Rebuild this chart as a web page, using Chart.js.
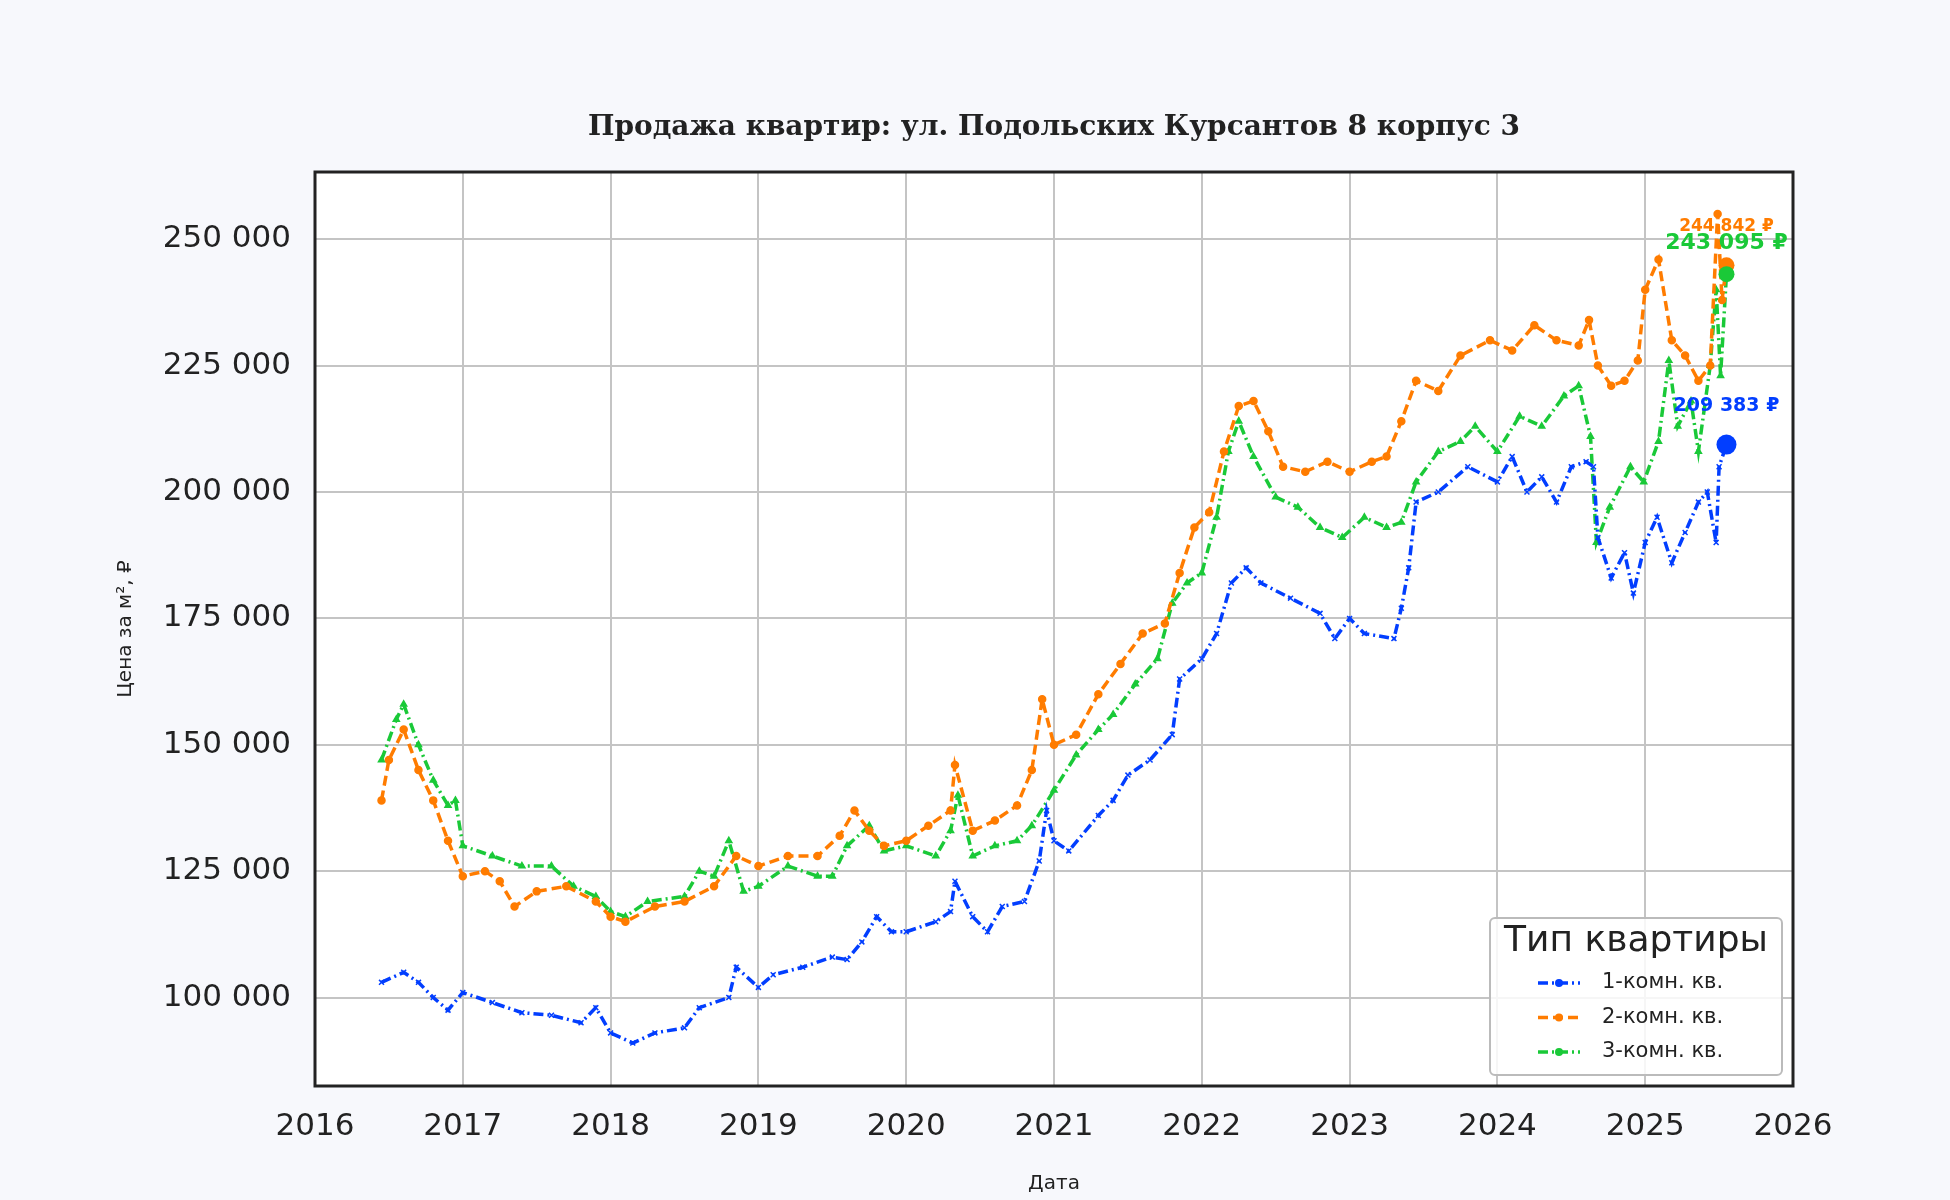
<!DOCTYPE html><html><head><meta charset="utf-8">
<script src="https://cdn.jsdelivr.net/npm/chart.js@4"></script>
<style>html,body{margin:0;background:#f7f8fc}#w{width:1950px;height:1200px}</style></head><body><div id="w"><canvas id="c"></canvas></div>
<script>
const xTicks=[2016,2017,2018,2019,2020,2021,2022,2023,2024,2025,2026];
const yTicks=[100000,125000,150000,175000,200000,225000,250000];
const series1Names=['1-комн. кв.','2-комн. кв.','3-комн. кв.'];
const d1=[[2016.45,103000],[2016.6,105000],[2016.7,103000],[2016.8,100000],[2016.9,97500],[2017.0,101000],[2017.2,99000],[2017.4,97000],[2017.6,96500],[2017.8,95000],[2017.9,98000],[2018.0,93000],[2018.15,91000],[2018.3,93000],[2018.5,94000],[2018.6,98000],[2018.8,100000],[2018.85,106000],[2019.0,102000],[2019.1,104500],[2019.3,106000],[2019.5,108000],[2019.6,107500],[2019.7,111000],[2019.8,116000],[2019.9,113000],[2020.0,113000],[2020.2,115000],[2020.3,117000],[2020.33,123000],[2020.45,116000],[2020.55,113000],[2020.65,118000],[2020.8,119000],[2020.9,127000],[2020.95,137000],[2021.0,131000],[2021.1,129000],[2021.3,136000],[2021.4,139000],[2021.5,144000],[2021.65,147000],[2021.8,152000],[2021.85,163000],[2022.0,167000],[2022.1,172000],[2022.2,182000],[2022.3,185000],[2022.4,182000],[2022.6,179000],[2022.8,176000],[2022.9,171000],[2023.0,175000],[2023.1,172000],[2023.3,171000],[2023.35,177000],[2023.4,185000],[2023.45,198000],[2023.6,200000],[2023.8,205000],[2024.0,202000],[2024.1,207000],[2024.2,200000],[2024.3,203000],[2024.4,198000],[2024.5,205000],[2024.6,206000],[2024.65,205000],[2024.68,191000],[2024.77,183000],[2024.86,188000],[2024.92,180000],[2025.0,190000],[2025.08,195000],[2025.18,186000],[2025.27,192000],[2025.36,198000],[2025.42,200000],[2025.48,190000],[2025.5,205000],[2025.55,209383]];
const d2=[[2016.45,139000],[2016.5,147000],[2016.6,153000],[2016.7,145000],[2016.8,139000],[2016.9,131000],[2017.0,124000],[2017.15,125000],[2017.25,123000],[2017.35,118000],[2017.5,121000],[2017.7,122000],[2017.9,119000],[2018.0,116000],[2018.1,115000],[2018.3,118000],[2018.5,119000],[2018.7,122000],[2018.85,128000],[2019.0,126000],[2019.2,128000],[2019.4,128000],[2019.55,132000],[2019.65,137000],[2019.75,133000],[2019.85,130000],[2020.0,131000],[2020.15,134000],[2020.3,137000],[2020.33,146000],[2020.45,133000],[2020.6,135000],[2020.75,138000],[2020.85,145000],[2020.92,159000],[2021.0,150000],[2021.15,152000],[2021.3,160000],[2021.45,166000],[2021.6,172000],[2021.75,174000],[2021.85,184000],[2021.95,193000],[2022.05,196000],[2022.15,208000],[2022.25,217000],[2022.35,218000],[2022.45,212000],[2022.55,205000],[2022.7,204000],[2022.85,206000],[2023.0,204000],[2023.15,206000],[2023.25,207000],[2023.35,214000],[2023.45,222000],[2023.6,220000],[2023.75,227000],[2023.95,230000],[2024.1,228000],[2024.25,233000],[2024.4,230000],[2024.55,229000],[2024.62,234000],[2024.68,225000],[2024.77,221000],[2024.86,222000],[2024.95,226000],[2025.0,240000],[2025.09,246000],[2025.18,230000],[2025.27,227000],[2025.36,222000],[2025.44,225000],[2025.49,255000],[2025.52,238000],[2025.55,244842]];
const d3=[[2016.45,147000],[2016.55,155000],[2016.6,158000],[2016.7,150000],[2016.8,143000],[2016.9,138000],[2016.95,139000],[2017.0,130000],[2017.2,128000],[2017.4,126000],[2017.6,126000],[2017.75,122000],[2017.9,120000],[2018.0,117000],[2018.1,116000],[2018.25,119000],[2018.5,120000],[2018.6,125000],[2018.7,124000],[2018.8,131000],[2018.9,121000],[2019.0,122000],[2019.2,126000],[2019.4,124000],[2019.5,124000],[2019.6,130000],[2019.75,134000],[2019.85,129000],[2020.0,130000],[2020.2,128000],[2020.3,133000],[2020.35,140000],[2020.45,128000],[2020.6,130000],[2020.75,131000],[2020.85,134000],[2021.0,141000],[2021.15,148000],[2021.3,153000],[2021.4,156000],[2021.55,162000],[2021.7,167000],[2021.8,178000],[2021.9,182000],[2022.0,184000],[2022.1,195000],[2022.18,208000],[2022.25,214000],[2022.35,207000],[2022.5,199000],[2022.65,197000],[2022.8,193000],[2022.95,191000],[2023.1,195000],[2023.25,193000],[2023.35,194000],[2023.45,202000],[2023.6,208000],[2023.75,210000],[2023.85,213000],[2024.0,208000],[2024.15,215000],[2024.3,213000],[2024.45,219000],[2024.55,221000],[2024.63,211000],[2024.67,190000],[2024.76,197000],[2024.9,205000],[2024.99,202000],[2025.09,210000],[2025.16,226000],[2025.22,213000],[2025.31,218000],[2025.36,208000],[2025.44,225000],[2025.48,240000],[2025.51,223000],[2025.55,243095]];
const colors=['#023eff','#ff7c00','#1ac938'];
const dashes=[[10,4,2,4],[10,5],[10,4,2,4]];
const markers=['crossRot','circle','triangle'];
const finals=[d1,d2,d3].map(d=>d[d.length-1]);
const labelOff=[[0,-39],[0,-39],[0,-31]];
const fmt=v=>Math.round(v).toLocaleString('ru-RU').replace(/\s/g,' ');
const datasets=[d1,d2,d3].map((d,i)=>({label:series1Names[i],data:d.map(p=>({x:p[0],y:p[1]})),borderColor:colors[i],backgroundColor:colors[i],borderWidth:3.5,borderDash:dashes[i],pointStyle:markers[i],pointRadius:3.5,pointBorderWidth:1.5,tension:0}));
const F='"DejaVu Sans"';
const deco={id:'deco',beforeDraw(c){const a=c.chartArea,x=c.ctx;x.save();x.fillStyle='#fff';x.fillRect(a.left,a.top,a.right-a.left,a.bottom-a.top);x.restore();},
afterDraw(c){const a=c.chartArea,x=c.ctx,sx=c.scales.x,sy=c.scales.y;x.save();
x.strokeStyle='#222';x.lineWidth=3;x.strokeRect(a.left,a.top,a.right-a.left,a.bottom-a.top);
x.fillStyle='#222';x.font='bold 28px "DejaVu Serif"';x.textAlign='center';x.textBaseline='middle';x.fillText('Продажа квартир: ул. Подольских Курсантов 8 корпус 3',(a.left+a.right)/2,128);
finals.forEach((p,i)=>{const px=sx.getPixelForValue(p[0]),py=sy.getPixelForValue(p[1]);x.fillStyle=colors[i];x.beginPath();x.arc(px,py,i==0?10:8,0,7);x.fill();
x.font=(i==2?'bold 22px ':(i==1?'bold 17px ':'bold 19px '))+F;x.fillText(fmt(p[1])+' ₽',px+labelOff[i][0],py+labelOff[i][1]);});
const lx=1490,ly=918,lw=292,lh=157;x.fillStyle='rgba(255,255,255,0.85)';x.strokeStyle='#bbb';x.lineWidth=2;x.beginPath();x.roundRect(lx,ly,lw,lh,5);x.fill();x.stroke();
x.fillStyle='#222';x.font='36px '+F;x.textAlign='center';x.fillText('Тип квартиры',lx+lw/2,ly+24);
x.textAlign='left';x.font='21px '+F;
for(let i=0;i<3;i++){const yy=ly+65+i*34.5;x.strokeStyle=colors[i];x.fillStyle=colors[i];x.lineWidth=3.5;x.setLineDash(dashes[i]);x.beginPath();x.moveTo(lx+48,yy);x.lineTo(lx+90,yy);x.stroke();x.setLineDash([]);x.beginPath();x.arc(lx+69,yy,4,0,7);x.fill();x.fillStyle='#222';x.fillText(series1Names[i],lx+112,yy);}
x.restore();}};
new Chart(document.getElementById('c'),{type:'line',data:{datasets},plugins:[deco],options:{responsive:true,maintainAspectRatio:false,animation:false,
layout:{padding:{top:172,right:157,left:110,bottom:0}},
plugins:{legend:{display:false},tooltip:{enabled:false}},
scales:{x:{type:'linear',min:2016,max:2026,afterBuildTicks(s){s.ticks=xTicks.map(v=>({value:v}));},afterFit(s){s.height=114;},
grid:{color:'#c4c4c4',lineWidth:2,drawTicks:false},border:{display:false},ticks:{color:'#222',font:{family:F,size:31},padding:22,callback:v=>String(v)},
title:{display:true,text:'Дата',color:'#222',font:{family:F,size:20},padding:{top:0}}},
y:{min:82500,max:263300,afterBuildTicks(s){s.ticks=yTicks.map(v=>({value:v}));},afterFit(s){s.width=205;},
grid:{color:'#c4c4c4',lineWidth:2,drawTicks:false},border:{display:false},ticks:{color:'#222',font:{family:F,size:31},padding:24,callback:v=>fmt(v)},
title:{display:true,text:'Цена за м², ₽',color:'#222',font:{family:F,size:20},padding:{bottom:4}}}}}});
</script></body></html>
